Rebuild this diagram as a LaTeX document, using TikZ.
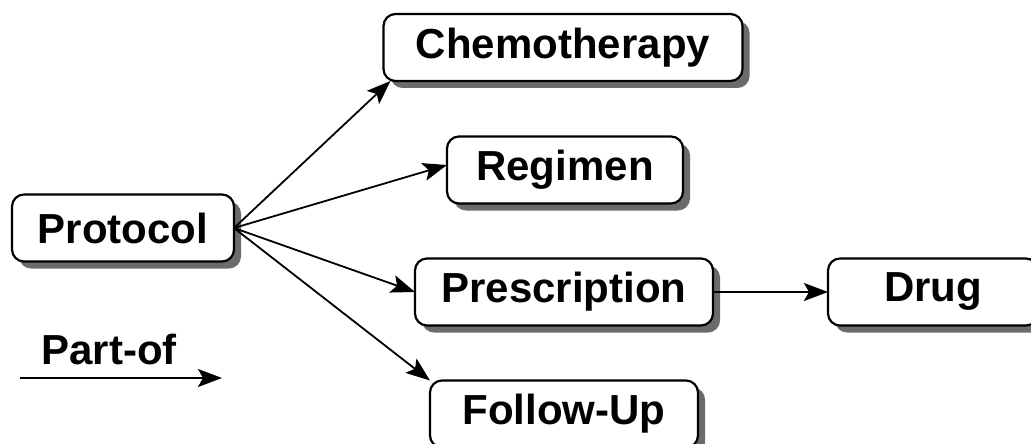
\documentclass[tikz,border=0pt]{standalone}
\usepackage{fontspec}
\setmainfont{Liberation Sans}
\usepackage{tikz}
\usetikzlibrary{arrows.meta}
\usetikzlibrary{shadows}

\begin{document}
\begin{tikzpicture}[x=1pt, y=-1pt,
    %Option for nice arrows
    >={Stealth[length=24pt,width=18pt,inset=5pt]}, %
    inner sep=0pt, outer sep=0pt,%
    concept/.style={draw, line width=2.2pt, rounded corners=12pt, fill=white,
        minimum height=67pt, font=\fontsize{42}{50}\selectfont\bfseries,
        drop shadow={shadow xshift=7pt, shadow yshift=-7pt, fill=black!58, opacity=1}},
    partof/.style={line width=1.8pt,->},
]
    \useasboundingbox (0,0) rectangle (1031,444);

    % Concepts
    \node[concept, minimum width=222pt] (protocol)     at (123, 228)  {Protocol};
    \node[concept, minimum width=359pt] (chemo)        at (563, 47.5) {Chemotherapy};
    \node[concept, minimum width=236pt] (regimen)      at (565, 170)  {Regimen};
    \node[concept, minimum width=298pt] (prescription) at (564, 292)  {Prescription};
    \node[concept, minimum width=210pt] (drug)         at (933, 292)  {Drug};
    \node[concept, minimum width=268pt] (followup)     at (564, 414)  {Follow-Up};

    % Part-of relations
    \draw[partof] (protocol.east) -- ([xshift=7pt]chemo.south west);
    \draw[partof] (protocol.east) -- ([yshift=5pt]regimen.west);
    \draw[partof] (protocol.east) -- (prescription.west);
    \draw[partof] (protocol.east) -- (followup.north west);
    \draw[partof] (prescription.east) -- (drug.west);

    % Legend
    \node[font=\fontsize{42}{50}\selectfont\bfseries] (legend) at (109, 349) {Part-of};
    \coordinate (legstart) at (20, 378);
    \coordinate (legend end) at (222, 378);
    \draw[partof] (legstart) -- (legend end);

\end{tikzpicture}
\end{document}
